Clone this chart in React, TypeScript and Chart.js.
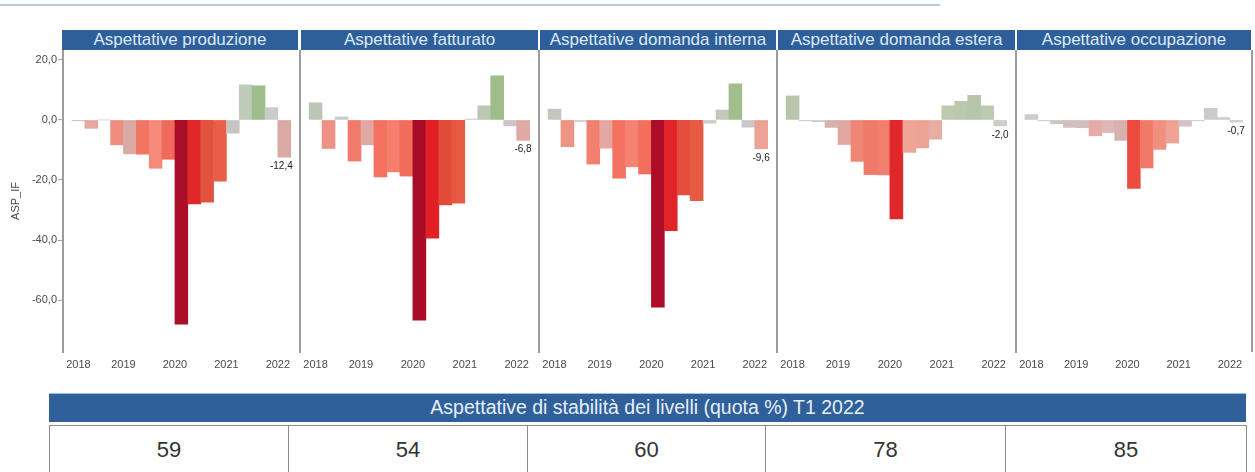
import React, { useEffect, useRef } from "react";
import { Chart, registerables } from "chart.js";

Chart.register(...registerables);

// ---------- data ----------
const quarters = [
  "2018 T1", "2018 T2", "2018 T3", "2018 T4",
  "2019 T1", "2019 T2", "2019 T3", "2019 T4",
  "2020 T1", "2020 T2", "2020 T3", "2020 T4",
  "2021 T1", "2021 T2", "2021 T3", "2021 T4",
  "2022 T1",
];

const panelTitles = [
  "Aspettative produzione",
  "Aspettative fatturato",
  "Aspettative domanda interna",
  "Aspettative domanda estera",
  "Aspettative occupazione",
];

const produzione = [-0.3, -2.8, 0, -8.3, -11.3, -11.4, -16.1, -13.1, -68.0, -28.0, -27.4, -20.4, -4.4, 11.7, 11.4, 4.1, -12.4];
const fatturato = [5.7, -9.5, 1.0, -13.7, -8.3, -19.0, -17.3, -18.7, -66.7, -39.4, -28.3, -27.7, 0.3, 4.7, 14.7, -2.0, -6.8];
const domandaInterna = [3.6, -8.9, -0.5, -14.7, -9.4, -19.4, -15.6, -18.0, -62.4, -36.9, -25.0, -26.9, -1.1, 3.3, 12.0, -2.4, -9.6];
const domandaEstera = [8.0, -0.3, -0.6, -2.5, -8.2, -13.8, -18.2, -18.3, -33.0, -10.8, -9.3, -6.4, 4.7, 6.2, 8.2, 4.7, -2.0];
const occupazione = [1.8, -0.3, -1.3, -2.5, -2.6, -5.3, -4.2, -6.8, -22.8, -16.0, -9.8, -7.7, -2.1, -0.3, 3.9, 0.8, -0.7];

const yTickValues = [20, 0, -20, -40, -60];
const yAxisTitle = "ASP_IF";

const tableTitle = "Aspettative di stabilità dei livelli (quota %) T1 2022";
const stabilityShares = [59, 54, 60, 78, 85];

// ---------- styles (colours per bar) ----------
const coloriProduzione = ["#d6b9b6", "#e6a79f", "#cccccc", "#ef8e7e", "#d9aaa4", "#f27564", "#f58a7b", "#f06a5b", "#a90f26", "#e0282a", "#e2533f", "#e85e47", "#c9c3c3", "#bfcbb8", "#9fbd8a", "#cbcbcb", "#dba9a3"];
const coloriFatturato = ["#bcc5b6", "#ec9184", "#cccccc", "#f27a6a", "#dfa9a2", "#f4705f", "#f57e6e", "#f26c5c", "#a90d25", "#e21f24", "#e14c39", "#e65942", "#cccccc", "#bcc7b4", "#9fbd88", "#cbc5c8", "#e0a9a3"];
const coloriInterna = ["#c4c6bf", "#ee9485", "#cccccc", "#f2806f", "#e5a8a0", "#f37262", "#f58373", "#f26e5d", "#ae0d27", "#e3232a", "#e24e3b", "#e65b43", "#cccccc", "#c2c9bb", "#a3be8e", "#cbc7c9", "#eca295"];
const coloriEstera = ["#b8c6ac", "#cccccc", "#cccccc", "#d6b3af", "#e0a8a0", "#ef8575", "#f07a6a", "#f27e6d", "#e0282a", "#efa496", "#eda394", "#e9aca0", "#bccaae", "#bac9ad", "#b6c7a9", "#bccaae", "#cccccc"];
const coloriOccupazione = ["#cccccc", "#cccccc", "#cfc3c3", "#d1bfbf", "#d1bfbf", "#e3aca6", "#ddb9b5", "#d6b1ad", "#ee4b40", "#f27868", "#f2907f", "#efa193", "#d3c2c2", "#cccccc", "#cbcbcb", "#cccccc", "#cccccc"];

const FONT = "Arial, 'Liberation Sans', sans-serif";
const BLUE = "#2f5f9b";
const AXIS_GRAY = "#9c9c9c";
const TICK_COLOR = "#4a4a4a";

const fmt = (v: number) => v.toFixed(1).replace(".", ",");

const panelEdges = [63, 300, 539, 777, 1016, 1252];
const PLOT_TOP = 50;
const CANVAS_H = 324;

const lastValueLabel = {
  id: "lastValueLabel",
  afterDatasetsDraw(chart: any) {
    const meta = chart.getDatasetMeta(0);
    const i = meta.data.length - 1;
    const el = meta.data[i];
    const p = el.getProps(["x", "y", "width"], true);
    const v = chart.data.datasets[0].data[i].y as number;
    const ctx = chart.ctx;
    ctx.save();
    ctx.font = `10px ${FONT}`;
    ctx.fillStyle = "#222";
    ctx.textAlign = "right";
    ctx.textBaseline = v < 0 ? "top" : "bottom";
    ctx.fillText(fmt(v), p.x + p.width / 2 + 2, v < 0 ? p.y + 4 : p.y - 4);
    ctx.restore();
  },
};

function Panel(props: { values: number[]; colors: string[]; index: number }) {
  const { values, colors, index } = props;
  const ref = useRef<HTMLCanvasElement>(null);
  const showAxis = index === 0;
  const axisW = showAxis ? 63 : 1;
  const left = showAxis ? 0 : panelEdges[index] - 1;
  const width = panelEdges[index + 1] - panelEdges[index] + axisW;

  useEffect(() => {
    const yearTicks = quarters
      .map((q, i) => ({ q, i }))
      .filter((o) => o.q.endsWith("T1"));
    const chart = new Chart(ref.current as HTMLCanvasElement, {
      type: "bar",
      data: {
        datasets: [
          {
            data: values.map((v, i) => ({ x: i, y: v })),
            backgroundColor: colors,
            borderWidth: 0,
            barPercentage: 1,
            categoryPercentage: 1,
          } as any,
        ],
      },
      options: {
        animation: false,
        responsive: false,
        maintainAspectRatio: false,
        layout: { padding: 0 },
        plugins: { legend: { display: false }, tooltip: { enabled: false } },
        scales: {
          x: {
            type: "linear",
            offset: false,
            min: -1.2,
            max: quarters.length - 0.5 + 0.72,
            afterBuildTicks: (s: any) => {
              s.ticks = yearTicks.map((o) => ({ value: o.i === 0 ? 0 : o.i - 0.5 }));
            },
            afterFit: (s: any) => {
              s.height = 22;
              s.paddingLeft = 0;
              s.paddingRight = 0;
            },
            ticks: {
              autoSkip: false,
              maxRotation: 0,
              minRotation: 0,
              padding: 6,
              color: TICK_COLOR,
              font: { size: 11, family: FONT },
              callback: (_v: any, idx: number) => yearTicks[idx] ? yearTicks[idx].q.slice(0, 4) : "",
            },
            grid: { display: false, drawTicks: false, offset: false },
            border: { display: false },
          },
          y: {
            min: -77.3,
            max: 23.3,
            afterBuildTicks: (s: any) => {
              s.ticks = yTickValues.map((v) => ({ value: v }));
            },
            afterFit: (s: any) => {
              s.width = axisW;
              s.paddingTop = 0;
              s.paddingBottom = 0;
            },
            ticks: {
              display: showAxis,
              padding: 1,
              color: TICK_COLOR,
              font: { size: 11, family: FONT },
              callback: (v: any) => fmt(Number(v)),
            },
            grid: { drawOnChartArea: false, drawTicks: showAxis, tickLength: 5, color: "#a8a8a8" },
            border: { display: true, color: AXIS_GRAY, width: 2 },
            title: {
              display: showAxis,
              text: yAxisTitle,
              color: TICK_COLOR,
              font: { size: 11, family: FONT },
              padding: { top: 9, bottom: 0 },
            },
          },
        },
      },
      plugins: [lastValueLabel],
    } as any);
    return () => chart.destroy();
  }, []);

  return (
    <canvas
      ref={ref}
      width={width}
      height={CANVAS_H}
      style={{ position: "absolute", left, top: PLOT_TOP, width, height: CANVAS_H }}
    />
  );
}

export default function App() {
  const series = [produzione, fatturato, domandaInterna, domandaEstera, occupazione];
  const colours = [coloriProduzione, coloriFatturato, coloriInterna, coloriEstera, coloriOccupazione];
  const cellEdges = [49, 288, 527, 765, 1005, 1246];

  return (
    <div
      style={{
        position: "absolute",
        left: 0,
        top: 0,
        width: 1255,
        height: 472,
        overflow: "hidden",
        background: "#fff",
        fontFamily: FONT,
      }}
    >
      <div style={{ position: "absolute", left: 0, top: 4, width: 940, height: 2, background: "#b4cce4" }} />

      {panelTitles.map((t, i) => (
        <div
          key={t}
          style={{
            position: "absolute",
            left: panelEdges[i] - (i === 0 ? 1 : -1),
            top: 30,
            width: panelEdges[i + 1] - panelEdges[i] - (i === 0 ? 0 : 1) - 1,
            height: 20,
            background: BLUE,
            color: "#dce9f7",
            fontSize: 17,
            lineHeight: "20px",
            textAlign: "center",
            whiteSpace: "nowrap",
            overflow: "hidden",
          }}
        >
          {t}
        </div>
      ))}

      {series.map((s, i) => (
        <Panel key={i} values={s} colors={colours[i]} index={i} />
      ))}

      <div
        style={{
          position: "absolute",
          left: panelEdges[5] - 1,
          top: PLOT_TOP,
          width: 2,
          height: 302,
          background: AXIS_GRAY,
        }}
      />

      <div
        style={{
          position: "absolute",
          left: cellEdges[0],
          top: 393,
          width: cellEdges[5] - cellEdges[0],
          height: 29,
          background: "#2f6099",
          borderTop: "1px solid #9cc0e6",
          boxSizing: "border-box",
          color: "#e6eefa",
          fontSize: 19.5,
          lineHeight: "27px",
          textAlign: "center",
          whiteSpace: "nowrap",
        }}
      >
        {tableTitle}
      </div>

      {stabilityShares.map((v, i) => (
        <div
          key={i}
          style={{
            position: "absolute",
            left: cellEdges[i],
            top: 425,
            width: cellEdges[i + 1] - cellEdges[i] + 1,
            height: 60,
            boxSizing: "border-box",
            border: "1px solid #8c8c8c",
            color: "#333",
            fontSize: 22,
            lineHeight: "26px",
            paddingTop: 11,
            textAlign: "center",
          }}
        >
          {v}
        </div>
      ))}
    </div>
  );
}
